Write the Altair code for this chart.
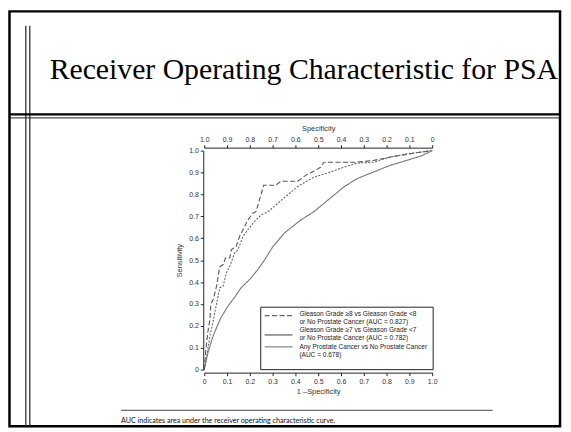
import altair as alt
import pandas as pd

# ---------------- data ----------------
fpr_g8 = [0, 0.008, 0.017, 0.025, 0.029, 0.039, 0.054, 0.068, 0.083, 0.093, 0.112, 0.119,
          0.14, 0.155, 0.177, 0.191, 0.213, 0.227, 0.242, 0.261, 0.314, 0.336, 0.409, 0.445,
          0.474, 0.51, 0.525, 0.67, 0.742, 0.813, 0.93, 1.0]
tpr_g8 = [0, 0.10, 0.18, 0.23, 0.30, 0.32, 0.38, 0.47, 0.48, 0.51, 0.51, 0.548,
          0.562, 0.608, 0.653, 0.683, 0.714, 0.721, 0.774, 0.842, 0.842, 0.86, 0.86, 0.887,
          0.902, 0.924, 0.947, 0.947, 0.955, 0.97, 0.99, 1.0]

fpr_g7 = [0, 0.014, 0.025, 0.039, 0.046, 0.058, 0.068, 0.083, 0.097, 0.112, 0.133, 0.148,
          0.17, 0.191, 0.22, 0.249, 0.278, 0.307, 0.351, 0.409, 0.452, 0.481, 0.553, 0.612,
          0.67, 0.742, 0.814, 0.887, 1.0]
tpr_g7 = [0, 0.08, 0.155, 0.22, 0.26, 0.32, 0.374, 0.381, 0.442, 0.472, 0.532, 0.548,
          0.608, 0.638, 0.676, 0.706, 0.72, 0.745, 0.785, 0.835, 0.862, 0.879, 0.902, 0.924,
          0.943, 0.947, 0.97, 0.985, 1.0]

fpr_any = [0, 0.017, 0.039, 0.072, 0.104, 0.133, 0.162, 0.206, 0.235, 0.264, 0.30, 0.351,
           0.423, 0.481, 0.525, 0.568, 0.612, 0.67, 0.742, 0.814, 0.887, 0.95, 1.0]
tpr_any = [0, 0.08, 0.155, 0.235, 0.29, 0.33, 0.374, 0.419, 0.457, 0.5, 0.56, 0.623,
           0.683, 0.721, 0.759, 0.796, 0.834, 0.872, 0.902, 0.932, 0.955, 0.975, 1.0]

curve_keys = ["g8", "g7", "any"]
tick_values = [0, 0.1, 0.2, 0.3, 0.4, 0.5, 0.6, 0.7, 0.8, 0.9, 1.0]

title_text = "Receiver Operating Characteristic for PSA"
footnote_text = "AUC indicates area under the receiver operating characteristic curve."
legend_lines = [
    ["Gleason Grade \u22658 vs Gleason Grade <8", "or No Prostate Cancer (AUC = 0.827)"],
    ["Gleason Grade \u22657 vs Gleason Grade <7", "or No Prostate Cancer (AUC = 0.782)"],
    ["Any Prostate Cancer vs No Prostate Cancer", "(AUC = 0.678)"],
]

# ---------------- build table ----------------
rows = []
for key, fx, ty in [("g8", fpr_g8, tpr_g8), ("g7", fpr_g7, tpr_g7), ("any", fpr_any, tpr_any)]:
    for i, (a, b) in enumerate(zip(fx, ty)):
        rows.append({"curve": key, "fpr": a, "tpr": b, "i": i})
roc = pd.DataFrame(rows)
ticks_df = pd.DataFrame({"v": tick_values})

# ---------------- layout helpers ----------------
W, H = 230, 221
TOTAL_W, TOTAL_H = 560, 424
PL, PT = 198, 142          # plot origin inside the chart
OX, OY = 8 + PL, 8 + PT    # plot origin on the page


def P(X):
    return X - OX


def Q(Y):
    return Y - OY


one = alt.Data(values=[{"k": 1}])
FONT = "Liberation Sans"
SERIF = "'Liberation Serif', 'Times New Roman', serif"


def hrule(x1, x2, y, color="#111", w=1.0):
    return alt.Chart(one).mark_rule(color=color, strokeWidth=w).encode(
        x=alt.value(P(x1)), x2=alt.value(P(x2)), y=alt.value(Q(y)))


def vrule(x, y1, y2, color="#111", w=1.0):
    return alt.Chart(one).mark_rule(color=color, strokeWidth=w).encode(
        x=alt.value(P(x)), y=alt.value(Q(y1)), y2=alt.value(Q(y2)))


def label(text, X, Y, size, font=FONT, color="#222", align="left", baseline="middle"):
    return alt.Chart(one).mark_text(text=text, align=align, baseline=baseline,
                                    fontSize=size, font=font, color=color).encode(
        x=alt.value(P(X)), y=alt.value(Q(Y)))


def sample(x1, x2, y, color, w, dash):
    return alt.Chart(one).mark_rule(color=color, strokeWidth=w, strokeDash=dash).encode(
        x=alt.value(P(x1)), x2=alt.value(P(x2)), y=alt.value(Q(y)))


layers = []

# slide frame & decoration
layers.append(alt.Chart(one).mark_rect(fillOpacity=0, stroke="#000", strokeWidth=2.5).encode(
    x=alt.value(P(9.5)), x2=alt.value(P(565)), y=alt.value(Q(9.5)), y2=alt.value(Q(428))))
layers.append(vrule(26, 24, 428, "#222", 1.2))
layers.append(vrule(30, 24, 428, "#222", 1.2))
layers.append(hrule(9.5, 565, 113.5, "#000", 2.2))
layers.append(hrule(9.5, 565, 117, "#222", 1.0))
layers.append(label(title_text, 50, 78, 30, font=SERIF, color="#000",
                    baseline="alphabetic"))
layers.append(hrule(122, 497, 412, "#444", 1.0))
layers.append(label(footnote_text, 122, 424.5, 7.2, font="Lato", color="#111",
                    baseline="alphabetic"))

lab_expr = "datum.value == 0 ? '0' : format(datum.value, '.1f')"
top_expr = "datum.value == 1 ? '0' : format(1 - datum.value, '.1f')"

common_axis = dict(values=tick_values, grid=False, domainColor="#222", tickColor="#222",
                   tickSize=3, labelFontSize=7, labelFont=FONT, labelColor="#333",
                   titleFontSize=7.5, titleFont=FONT, titleFontWeight="normal",
                   titleColor="#333", labelFlush=False, labelOverlap=False, zindex=2)

xscale = alt.Scale(domain=[0, 1], nice=False, zero=False)
yscale = alt.Scale(domain=[0, 1], nice=False, zero=False)

curves = alt.Chart(roc).mark_line(strokeWidth=1.1).encode(
    x=alt.X("fpr:Q", scale=xscale,
            axis=alt.Axis(orient="bottom", labelExpr=lab_expr, title="1 \u2013Specificity",
                          offset=3, labelPadding=2, titlePadding=3, **common_axis)),
    y=alt.Y("tpr:Q", scale=yscale,
            axis=alt.Axis(orient="left", labelExpr=lab_expr, title="Sensitivity",
                          offset=1, labelPadding=2, titlePadding=5, **common_axis)),
    color=alt.Color("curve:N", scale=alt.Scale(domain=curve_keys,
                                               range=["#555555", "#666666", "#777777"]),
                    legend=None),
    strokeDash=alt.StrokeDash("curve:N", scale=alt.Scale(domain=curve_keys,
                                                          range=[[5, 2.5], [2, 1.5], [1, 0]]),
                              legend=None),
    order="i:Q",
)
layers.append(curves)

top_axis = alt.Chart(ticks_df).mark_point(opacity=0).encode(
    x=alt.X("v:Q", scale=xscale,
            axis=alt.Axis(orient="top", labelExpr=top_expr, title="Specificity",
                          offset=3, labelPadding=2, titlePadding=3, **common_axis)),
    y=alt.value(0),
)
layers.append(top_axis)

# legend box
layers.append(alt.Chart(one).mark_rect(fill="white", stroke="#222", strokeWidth=1).encode(
    x=alt.value(P(263)), x2=alt.value(P(437)), y=alt.value(Q(308)), y2=alt.value(Q(371))))
layers.append(sample(267, 295, 316.5, "#666", 1.1, [5, 2.5]))
layers.append(sample(267, 295, 336, "#222", 1.0, [1, 0]))
layers.append(sample(267, 295, 348, "#888", 1.3, [1, 0]))
row_y = [(315, 322.5), (331.5, 339), (348.5, 356)]
for lines, ys in zip(legend_lines, row_y):
    for txt, yy in zip(lines, ys):
        layers.append(label(txt, 302, yy, 6.6, color="#222"))

chart = alt.layer(*layers).properties(
    width=W, height=H,
    padding={"left": PL, "top": PT, "right": TOTAL_W - PL - W, "bottom": TOTAL_H - PT - H},
    autosize=alt.AutoSizeParams(type="none"),
).resolve_axis(x="independent").configure_view(stroke=None)

chart.save("out.html", embed_options={"renderer": "svg", "actions": False})
